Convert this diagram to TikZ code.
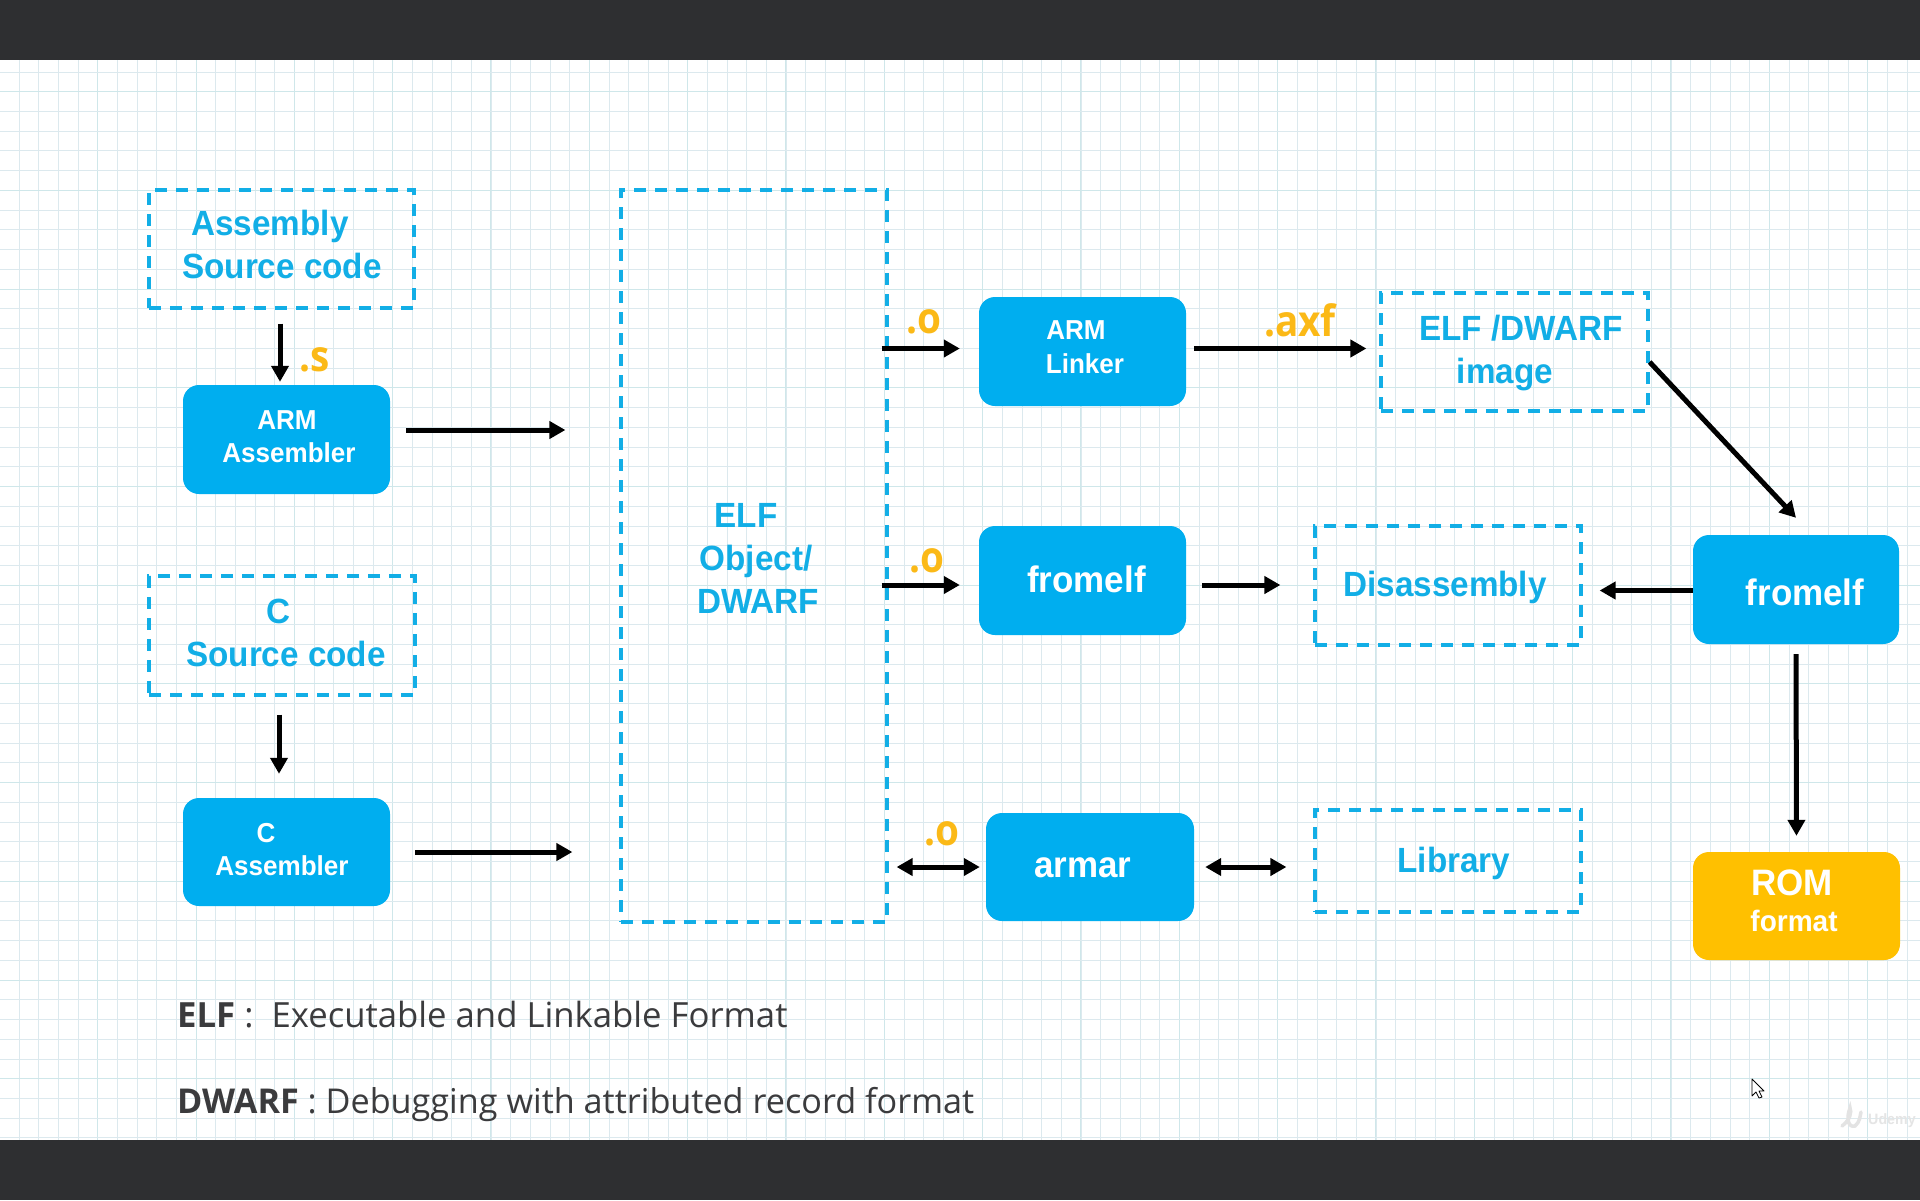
\documentclass[tikz,border=0pt]{standalone}
\usepackage{fontspec}
\setmainfont[FakeStretch=0.95]{Liberation Sans}
\newfontfamily\bodyfont{Open Sans}
\newfontfamily\extfont[FakeStretch=0.9]{Open Sans}
\usetikzlibrary{arrows.meta}
\definecolor{cblue}{HTML}{00AEEF}
\definecolor{dblue}{HTML}{12AEE6}
\definecolor{cyel}{HTML}{FFC000}
\definecolor{lyel}{HTML}{FBB917}
\definecolor{bar}{HTML}{2E2F31}
\definecolor{gridc}{HTML}{DCE9EE}
\definecolor{gridm}{HTML}{CFE7EA}
\definecolor{inkc}{HTML}{3B3B3D}
\tikzset{
  solidbox/.style={draw=none,fill=cblue,rounded corners=16pt,inner sep=0pt},
  dashbox/.style={draw=dblue,line width=3.2pt,dash pattern=on 12pt off 9pt,inner sep=0pt},
  yelbox/.style={solidbox,fill=cyel},
  arr/.style={-{Stealth[length=16pt,width=17pt,inset=0pt]},line width=5pt,black},
  dbl/.style={{Stealth[length=16pt,width=17pt,inset=0pt]}-{Stealth[length=16pt,width=17pt,inset=0pt]},line width=5pt,black},
  tx/.style={anchor=base,inner sep=0pt,yshift=1.5pt,font=\fontsize{#1}{#1}\selectfont\bfseries},
  bluetx/.style={tx=35,text=dblue},
  whitetx/.style={tx=27.4,text=white},
  whitebig/.style={tx=36.8,text=white},
  yeltx/.style={anchor=base,inner sep=0pt,text=lyel,font=\extfont\fontsize{43}{43}\selectfont\bfseries},
  legend/.style={anchor=base west,inner sep=0pt,text=inkc,font=\bodyfont\fontsize{#1}{#1}\selectfont},
}
\newcommand{\bx}[6]{\node[#6,minimum width={(#4-#2)*1pt},minimum height={(#5-#3)*1pt}] (#1) at ({(#2+#4)/2},{(#3+#5)/2}) {};}
\begin{document}
\begin{tikzpicture}[x=1pt,y=-1pt]
\useasboundingbox (0,0) rectangle (1920,1200);
\fill[white] (0,0) rectangle (1920,1200);
% grid paper
\foreach \i in {0,...,97}{\draw[gridc,line width=1pt] ({19+19.667*\i},60) -- ({19+19.667*\i},1140);}
\foreach \i in {0,...,18}{\draw[gridm,line width=1pt] ({97.67+98.33*\i},60) -- ({97.67+98.33*\i},1140);}
\foreach \i in {0,...,54}{\draw[gridc,line width=1pt] (0,{72+19.74*\i}) -- (1920,{72+19.74*\i});}
\foreach \i in {0,...,10}{\draw[gridm,line width=1pt] (0,{91.74+98.7*\i}) -- (1920,{91.74+98.7*\i});}
\fill[bar] (0,0) rectangle (1920,60);
\fill[bar] (0,1140) rectangle (1920,1200);
% boxes
\bx{asmsrc}{149}{190}{414}{308}{dashbox}
\bx{armasm}{183}{385}{390}{494}{solidbox}
\bx{csrc}{149}{576}{415}{695}{dashbox}
\bx{casm}{183}{798}{390}{906}{solidbox}
\bx{elf}{621}{190}{887}{922}{dashbox}
\bx{link}{979}{297}{1186}{406}{solidbox}
\bx{from}{979}{526}{1186}{635}{solidbox}
\bx{armar}{986}{813}{1194}{921}{solidbox}
\bx{image}{1381}{293}{1648}{411}{dashbox}
\bx{disasm}{1315}{526}{1581}{645}{dashbox}
\bx{lib}{1315}{810}{1581}{912}{dashbox}
\bx{fromb}{1693}{535}{1899}{644}{solidbox}
\bx{rom}{1693}{852}{1900}{960}{yelbox}
% box texts
\node[bluetx] (t1) at (270,237) {Assembly};
\node[bluetx] (t2) at (282,280) {Source code};
\node[whitetx] (t3) at (287,431) {ARM};
\node[whitetx] (t4) at (289,464) {Assembler};
\node[bluetx] (t5) at (278.5,625) {C};
\node[bluetx] (t6) at (286,668) {Source code};
\node[whitetx] (t7) at (266,844) {C};
\node[whitetx] (t8) at (282,877) {Assembler};
\node[bluetx] (t9) at (746,529) {ELF};
\node[bluetx] (t10) at (756,572) {Object/};
\node[bluetx] (t11) at (758,615) {DWARF};
\node[whitetx] (t12) at (1076,341) {ARM};
\node[whitetx] (t13) at (1085,375) {Linker};
\node[whitebig] (t14) at (1086.5,594) {fromelf};
\node[whitebig] (t15) at (1083,879) {armar};
\node[bluetx] (t16) at (1521,342) {ELF /DWARF};
\node[bluetx] (t17) at (1505,385) {image};
\node[bluetx] (t18) at (1445,598) {Disassembly};
\node[bluetx] (t19) at (1454,874) {Library};
\node[whitebig] (t20) at (1805,607) {fromelf};
\node[whitebig] (t21) at (1792,897) {ROM};
\node[tx=29.5,text=white] (t22) at (1794,933) {format};
% extension labels
\node[yeltx] (e1) at (315,371) {.s};
\node[yeltx] (e2) at (924,333) {.o};
\node[yeltx] (e3) at (927,572) {.o};
\node[yeltx] (e4) at (942,845) {.o};
\node[yeltx] (e5) at (1300,336) {.axf};
% connectors
\draw[arr,shorten <=14pt,shorten >=3pt] ([xshift=-1.5pt]asmsrc.south) -- ([xshift=-1.5pt]asmsrc.south |- armasm.north);
\draw[arr,shorten <=16pt,shorten >=54pt] ([yshift=9.5pt]armasm.east) -- ([yshift=9.5pt]armasm.east -| elf.west);
\draw[arr,shorten <=18pt,shorten >=24pt] ([xshift=-3pt]csrc.south) -- ([xshift=-3pt]csrc.south |- casm.north);
\draw[arr,shorten <=25pt,shorten >=47pt] (casm.east) -- (casm.east -| elf.west);
\draw[arr,shorten <=-7pt,shorten >=19pt] ([yshift=3pt]link.west -| elf.east) -- ([yshift=3pt]link.west);
\draw[arr,shorten <=-7pt,shorten >=19pt] ([yshift=-4.5pt]from.west -| elf.east) -- ([yshift=-4.5pt]from.west);
\draw[dbl,shorten <=8pt,shorten >=6pt] (armar.west -| elf.east) -- (armar.west);
\draw[dbl,shorten <=11pt,shorten >=27pt] (armar.east) -- (armar.east -| lib.west);
\draw[arr,shorten <=8pt,shorten >=13pt] ([yshift=3pt]link.east) -- ([yshift=3pt]link.east -| image.west);
\draw[arr,shorten <=16pt,shorten >=33pt] ([yshift=-4.5pt]from.east) -- ([yshift=-4.5pt]from.east -| disasm.west);
\draw[arr] ([yshift=-10pt]image.east) -- ([yshift=17pt]fromb.north);
\draw[arr,shorten >=17pt] ([yshift=-1pt]fromb.west) -- ([yshift=-1pt]fromb.west -| disasm.east);
\draw[arr,shorten <=10pt,shorten >=16pt] (fromb.south) -- (rom.north);
% legend
\node[legend=34.7] (l1) at (177,1027) {\textbf{ELF} :\ \ Executable and Linkable Format};
\node[legend=34.2] (l2) at (177,1113) {\textbf{DWARF} : Debugging with attributed record format};
% pointer and watermark
\draw[black,fill=white,line width=.8pt,line join=round] (1752,1079) -- (1752,1096) -- (1756,1092) -- (1759,1098) -- (1762,1097) -- (1759,1091) -- (1764,1091) -- cycle;
\node[anchor=base west,inner sep=0pt,text=white!80!gray,font=\fontsize{15}{15}\selectfont\bfseries] (w1) at (1868,1124) {Udemy};
\draw[white!78!gray,line width=3.5pt,line cap=round] (1842,1126) .. controls (1850,1120) and (1852,1112) .. (1850,1108) .. controls (1846,1118) and (1848,1128) .. (1855,1126) .. controls (1860,1122) and (1860,1116) .. (1861,1112);
\end{tikzpicture}
\end{document}
